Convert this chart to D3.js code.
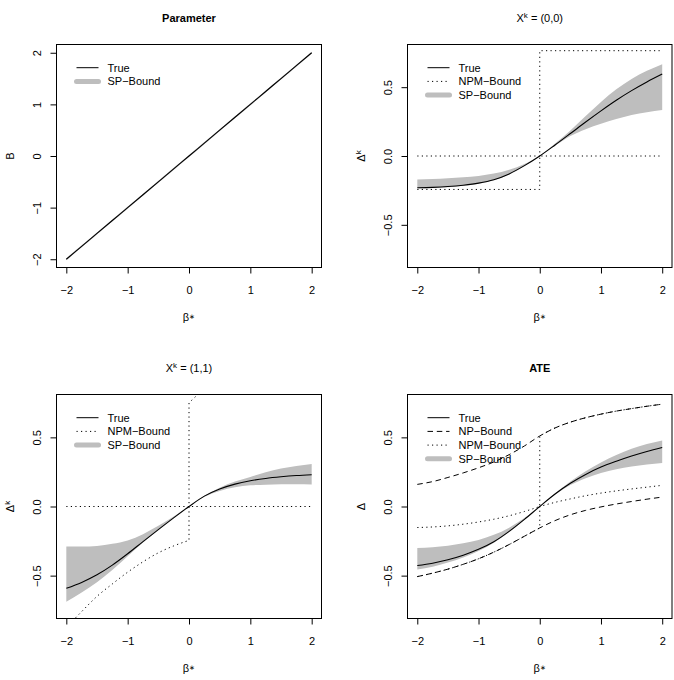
<!DOCTYPE html>
<html>
<head>
<meta charset="utf-8">
<script src="https://cdn.jsdelivr.net/npm/d3@7"></script>
<style>
  body { margin: 0; background: #fff; }
  text { font-family: 'Liberation Sans', Arial, Helvetica, sans-serif; fill: #000; }
</style>
</head>
<body>
<div id="chart"></div>
<script>
// grid of beta* values the curves are read at
const beta = [-2, -1.75, -1.5, -1.25, -1, -0.75, -0.5, -0.25, 0, 0.25, 0.5, 0.75, 1, 1.25, 1.5, 1.75, 2];
const betaNeg = [-2, -1.75, -1.5, -1.25, -1, -0.75, -0.5, -0.25, 0];
const betaPos = [0, 0.25, 0.5, 0.75, 1, 1.25, 1.5, 1.75, 2];
const xTicks = [-2, -1, 0, 1, 2];

// Parameter
const paramTrue = [-2, -1.75, -1.5, -1.25, -1, -0.75, -0.5, -0.25, 0, 0.25, 0.5, 0.75, 1, 1.25, 1.5, 1.75, 2];
const paramSpLo = [-2.02, -1.77, -1.52, -1.27, -1.02, -0.77, -0.52, -0.27, -0.02, 0.23, 0.48, 0.73, 0.98, 1.23, 1.48, 1.73, 1.98];
const paramSpHi = [-1.98, -1.73, -1.48, -1.23, -0.98, -0.73, -0.48, -0.23, 0.02, 0.27, 0.52, 0.77, 1.02, 1.27, 1.52, 1.77, 2.02];

// X^k = (0,0)
const x00True = [-0.231, -0.228, -0.222, -0.212, -0.197, -0.172, -0.13, -0.07, 0, 0.08, 0.163, 0.247, 0.328, 0.405, 0.475, 0.538, 0.595];
const x00SpLo = [-0.236, -0.233, -0.227, -0.217, -0.202, -0.177, -0.134, -0.072, 0, 0.074, 0.145, 0.195, 0.234, 0.268, 0.297, 0.318, 0.335];
const x00SpHi = [-0.17, -0.167, -0.162, -0.155, -0.145, -0.128, -0.1, -0.058, 0, 0.09, 0.185, 0.29, 0.393, 0.485, 0.56, 0.619, 0.667];
const x00NpmLoNeg = [-0.243, -0.243, -0.243, -0.243, -0.243, -0.243, -0.243, -0.243, -0.243];
const x00NpmLoPos = [0, 0, 0, 0, 0, 0, 0, 0, 0];
const x00NpmHiNeg = [0, 0, 0, 0, 0, 0, 0, 0, 0];
const x00NpmHiPos = [0.765, 0.765, 0.765, 0.765, 0.765, 0.765, 0.765, 0.765, 0.765];

// X^k = (1,1)
const x11True = [-0.592, -0.549, -0.494, -0.424, -0.342, -0.254, -0.167, -0.082, 0, 0.075, 0.127, 0.162, 0.186, 0.203, 0.215, 0.224, 0.23];
const x11SpLo = [-0.688, -0.622, -0.548, -0.46, -0.36, -0.26, -0.168, -0.084, 0, 0.07, 0.113, 0.14, 0.153, 0.158, 0.161, 0.161, 0.16];
const x11SpHi = [-0.29, -0.289, -0.285, -0.27, -0.245, -0.2, -0.14, -0.072, 0, 0.078, 0.136, 0.18, 0.214, 0.247, 0.274, 0.293, 0.308];
const x11NpmLoNeg = [-0.875, -0.76, -0.65, -0.56, -0.475, -0.4, -0.335, -0.285, -0.245];
const x11NpmLoPos = [0, 0, 0, 0, 0, 0, 0, 0, 0];
const x11NpmHiNeg = [0, 0, 0, 0, 0, 0, 0, 0, 0];
const x11NpmHiPos = [0.75, 0.85, 0.93, 1.0, 1.08, 1.16, 1.25, 1.35, 1.47];

// ATE
const ateTrue = [-0.427, -0.41, -0.385, -0.352, -0.31, -0.255, -0.18, -0.093, 0, 0.09, 0.168, 0.232, 0.285, 0.327, 0.365, 0.398, 0.427];
const ateSpLo = [-0.455, -0.435, -0.405, -0.368, -0.322, -0.262, -0.185, -0.095, 0, 0.085, 0.155, 0.205, 0.243, 0.27, 0.29, 0.304, 0.315];
const ateSpHi = [-0.3, -0.294, -0.283, -0.266, -0.242, -0.205, -0.153, -0.083, 0, 0.095, 0.18, 0.255, 0.318, 0.372, 0.418, 0.452, 0.478];
const ateNpLo = [-0.507, -0.482, -0.453, -0.418, -0.378, -0.33, -0.275, -0.215, -0.155, -0.102, -0.06, -0.028, -0.003, 0.018, 0.036, 0.053, 0.068];
const ateNpHi = [0.16, 0.18, 0.21, 0.243, 0.28, 0.322, 0.375, 0.438, 0.51, 0.568, 0.61, 0.642, 0.668, 0.69, 0.708, 0.725, 0.74];
const ateNpmLoNeg = [-0.507, -0.482, -0.453, -0.418, -0.378, -0.33, -0.275, -0.215, -0.155];
const ateNpmLoPos = [0, 0.03, 0.055, 0.078, 0.097, 0.113, 0.127, 0.14, 0.153];
const ateNpmHiNeg = [-0.152, -0.148, -0.14, -0.128, -0.112, -0.092, -0.067, -0.036, 0];
const ateNpmHiPos = [0.51, 0.568, 0.61, 0.642, 0.668, 0.69, 0.708, 0.725, 0.74];

const BAND = '#BEBEBE';
const DOT = '1.2,3.3';
const DASH = '5.5,3.8';
const FONT = 11;

const svg = d3.select('#chart').append('svg')
  .attr('width', 674)
  .attr('height', 680);

const minus = s => s.replace(/-/g, '\u2212');

// panel layout + which series go in it
const panels = [
  {
    box: [56.5, 321.5, 44.5, 267.5], ylim: [-2, 2], yTicks: [-2, -1, 0, 1, 2], yFmt: d3.format('d'),
    title: [{ t: 'Parameter' }], bold: true, ylab: [{ t: 'B' }],
    trueVals: paramTrue, spLo: paramSpLo, spHi: paramSpHi,
    legend: [['True', 'solid'], ['SP\u2212Bound', 'band']],
  },
  {
    box: [407.5, 672, 44.5, 267.5], ylim: [-0.75, 0.75], yTicks: [-0.5, 0, 0.5], yFmt: d3.format('.1f'),
    title: [{ t: 'X' }, { t: 'k', sup: true }, { t: ' = (0,0)' }], bold: false,
    ylab: [{ t: '\u0394' }, { t: 'k', sup: true }],
    trueVals: x00True, spLo: x00SpLo, spHi: x00SpHi,
    npm: [x00NpmLoNeg, x00NpmLoPos, x00NpmHiNeg, x00NpmHiPos],
    legend: [['True', 'solid'], ['NPM\u2212Bound', 'dotted'], ['SP\u2212Bound', 'band']],
  },
  {
    box: [56.5, 321.5, 394.5, 618.5], ylim: [-0.75, 0.75], yTicks: [-0.5, 0, 0.5], yFmt: d3.format('.1f'),
    title: [{ t: 'X' }, { t: 'k', sup: true }, { t: ' = (1,1)' }], bold: false,
    ylab: [{ t: '\u0394' }, { t: 'k', sup: true }],
    trueVals: x11True, spLo: x11SpLo, spHi: x11SpHi,
    npm: [x11NpmLoNeg, x11NpmLoPos, x11NpmHiNeg, x11NpmHiPos],
    legend: [['True', 'solid'], ['NPM\u2212Bound', 'dotted'], ['SP\u2212Bound', 'band']],
  },
  {
    box: [407.5, 672, 394.5, 618.5], ylim: [-0.75, 0.75], yTicks: [-0.5, 0, 0.5], yFmt: d3.format('.1f'),
    title: [{ t: 'ATE' }], bold: true, ylab: [{ t: '\u0394' }],
    trueVals: ateTrue, spLo: ateSpLo, spHi: ateSpHi,
    np: [ateNpLo, ateNpHi],
    npm: [ateNpmLoNeg, ateNpmLoPos, ateNpmHiNeg, ateNpmHiPos],
    legend: [['True', 'solid'], ['NP\u2212Bound', 'dashed'], ['NPM\u2212Bound', 'dotted'], ['SP\u2212Bound', 'band']],
  },
];

// write text made of plain and superscript pieces
function richText(sel, parts) {
  parts.forEach((p, i) => {
    const ts = sel.append('tspan').text(p.t);
    if (p.sup) ts.attr('font-size', 8).attr('dy', -4);
    else if (i > 0 && parts[i - 1].sup) ts.attr('dy', 4);
  });
}

panels.forEach((p, idx) => {
  const [x0, x1, y0, y1] = p.box;
  const yr = p.ylim[1] - p.ylim[0];
  const x = d3.scaleLinear().domain([-2.16, 2.16]).range([x0, x1]);
  const y = d3.scaleLinear().domain([p.ylim[0] - 0.04 * yr, p.ylim[1] + 0.04 * yr]).range([y1, y0]);
  const g = svg.append('g');

  g.append('clipPath').attr('id', `clip${idx}`)
    .append('rect').attr('x', x0).attr('y', y0).attr('width', x1 - x0).attr('height', y1 - y0);
  const plot = g.append('g').attr('clip-path', `url(#clip${idx})`);

  const line = (xs, ys) => d3.line()
    .x((d, i) => x(xs[i]))
    .y(d => y(d))
    .curve(d3.curveMonotoneX)(ys);

  // SP bound band
  plot.append('path')
    .attr('d', d3.area()
      .x((d, i) => x(beta[i]))
      .y0((d, i) => y(p.spLo[i]))
      .y1((d, i) => y(p.spHi[i]))
      .curve(d3.curveMonotoneX)(p.spLo))
    .attr('fill', BAND);

  // NP bounds (dashed)
  if (p.np) {
    p.np.forEach((vals) => {
      plot.append('path').attr('d', line(beta, vals))
        .attr('fill', 'none').attr('stroke', '#000').attr('stroke-width', 1)
        .attr('stroke-dasharray', DASH);
    });
  }

  // NPM bounds (dotted), two pieces joined by a jump at 0
  if (p.npm) {
    const [loNeg, loPos, hiNeg, hiPos] = p.npm;
    [[loNeg, loPos], [hiNeg, hiPos]].forEach(([neg, pos]) => {
      const d = line(betaNeg, neg) + 'L' + x(0) + ',' + y(pos[0]) + line(betaPos, pos).replace(/^M/, 'L');
      plot.append('path').attr('d', d)
        .attr('fill', 'none').attr('stroke', '#000').attr('stroke-width', 1)
        .attr('stroke-dasharray', DOT);
    });
  }

  // true curve
  plot.append('path').attr('d', line(beta, p.trueVals))
    .attr('fill', 'none').attr('stroke', '#000').attr('stroke-width', 1.1);

  // box
  g.append('rect').attr('x', x0).attr('y', y0).attr('width', x1 - x0).attr('height', y1 - y0)
    .attr('fill', 'none').attr('stroke', '#000').attr('stroke-width', 1);

  // x axis
  const ax = g.append('g').attr('transform', `translate(0,${y1})`)
    .call(d3.axisBottom(x).tickValues(xTicks).tickSize(6).tickFormat(d => minus(String(d))));
  ax.select('.domain').remove();
  ax.attr('font-size', FONT).attr('font-family', null);
  ax.selectAll('text').attr('y', 26).attr('dy', null);

  // y axis, labels turned like R's las = 0
  const ay = g.append('g').attr('transform', `translate(${x0},0)`)
    .call(d3.axisLeft(y).tickValues(p.yTicks).tickSize(6).tickFormat(d => minus(p.yFmt(d))));
  ay.select('.domain').remove();
  ay.attr('font-size', FONT).attr('font-family', null);
  ay.selectAll('text')
    .attr('x', null).attr('dy', null)
    .attr('text-anchor', 'middle')
    .attr('transform', 'translate(-15.5,0) rotate(-90)');

  // title
  const cx = (x0 + x1) / 2;
  const tt = g.append('text').attr('x', cx).attr('y', y0 - 23)
    .attr('text-anchor', 'middle').attr('font-size', FONT)
    .attr('font-weight', p.bold ? 'bold' : 'normal');
  richText(tt, p.title);

  // x label: beta with a small raised star
  const xl = g.append('text').attr('x', cx).attr('y', y1 + 53)
    .attr('text-anchor', 'middle').attr('font-size', FONT);
  xl.append('tspan').text('\u03B2');
  xl.append('tspan').attr('font-size', 7).attr('dy', -1.5).text('\u2217');

  // y label
  const yl = g.append('text')
    .attr('transform', `translate(${x0 - 42.5},${(y0 + y1) / 2}) rotate(-90)`)
    .attr('text-anchor', 'middle').attr('font-size', FONT);
  richText(yl, p.ylab);

  // legend, top left, no frame
  const lg = g.append('g').attr('transform', `translate(${x0 + 20},${y0 + 23.2})`);
  p.legend.forEach(([label, kind], i) => {
    const row = lg.append('g').attr('transform', `translate(0,${i * 13.7})`);
    const seg = row.append('line').attr('x1', 0).attr('x2', 22).attr('y1', 0).attr('y2', 0)
      .attr('stroke', '#000').attr('stroke-width', 1);
    if (kind === 'dashed') seg.attr('stroke-dasharray', DASH);
    if (kind === 'dotted') seg.attr('stroke-dasharray', DOT);
    if (kind === 'band') seg.attr('stroke', BAND).attr('stroke-width', 5).attr('stroke-linecap', 'round');
    row.append('text').attr('x', 31).attr('y', 0).attr('dy', '0.35em')
      .attr('font-size', FONT).text(label);
  });
});
</script>
</body>
</html>
